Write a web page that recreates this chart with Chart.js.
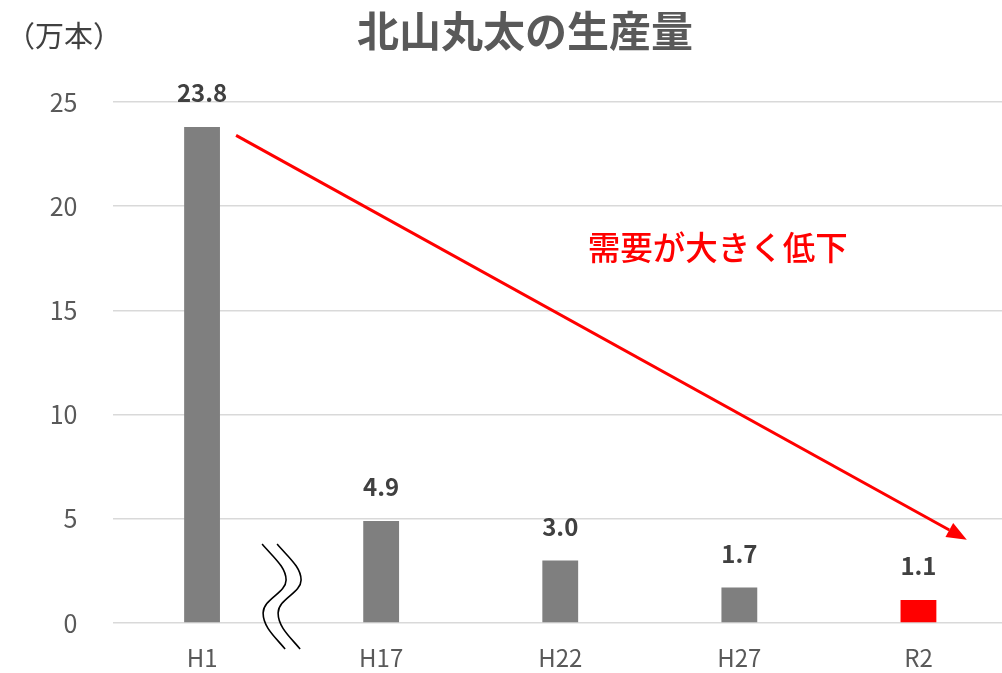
<!DOCTYPE html>
<html lang="ja">
<head>
<meta charset="utf-8">
<title>北山丸太の生産量</title>
<script src="https://cdn.jsdelivr.net/npm/chart.js@4.4.1/dist/chart.umd.min.js"></script>
<style>
  html, body { margin: 0; padding: 0; background: #fff; overflow: hidden; }
  #wrap { width: 1008px; height: 673px; position: relative; }
</style>
</head>
<body>
<div id="wrap"><canvas id="chart"></canvas></div>
<script>
const FONT = '"Noto Sans CJK JP", "Noto Sans", sans-serif';

const categories = ["H1", "H17", "H22", "H27", "R2"];
const production = [23.8, 4.9, 3.0, 1.7, 1.1]; // 万本
const yTicks = [0, 5, 10, 15, 20, 25];

const TITLE = "北山丸太の生産量";
const UNIT = "（万本）";
const NOTE = "需要が大きく低下";

// annotation anchors in data units: [category index, value]
const arrowFrom = [0.19, 23.4];
const arrowTo = [4.27, 4.0];
const noteAt = [2.88, 18.0];
const breakAt = 0.447; // between H1 and H17

const barColors = production.map((_, i) => (i === production.length - 1 ? "#ff0000" : "#7f7f7f"));

// value labels above each bar
const valueLabels = {
  id: "valueLabels",
  afterDatasetsDraw(chart) {
    const ctx = chart.ctx;
    const meta = chart.getDatasetMeta(0);
    ctx.save();
    ctx.font = `bold 24px ${FONT}`;
    ctx.fillStyle = "#404040";
    ctx.textAlign = "center";
    ctx.textBaseline = "middle";
    meta.data.forEach((bar, i) => {
      ctx.fillText(production[i].toFixed(1), bar.x, bar.y - 34);
    });
    ctx.restore();
  },
};

// title, unit label, trend arrow, note and axis break marks
const decorations = {
  id: "decorations",
  afterDraw(chart) {
    const ctx = chart.ctx;
    const xs = chart.scales.x, ys = chart.scales.y;
    const px = (p) => [xs.getPixelForValue(p[0]), ys.getPixelForValue(p[1])];
    ctx.save();

    ctx.font = `bold 42px ${FONT}`;
    ctx.fillStyle = "#595959";
    ctx.textAlign = "center";
    ctx.textBaseline = "middle";
    ctx.fillText(TITLE, 525, 31);

    ctx.font = `29px ${FONT}`;
    ctx.fillStyle = "#404040";
    ctx.textAlign = "left";
    ctx.fillText(UNIT, 6, 36);

    // arrow
    const [x1, y1] = px(arrowFrom);
    const [x2, y2] = px(arrowTo);
    const ang = Math.atan2(y2 - y1, x2 - x1);
    const headLen = 20, headW = 8;
    const bx = x2 - headLen * Math.cos(ang), by = y2 - headLen * Math.sin(ang);
    ctx.strokeStyle = "#ff0000";
    ctx.fillStyle = "#ff0000";
    ctx.lineWidth = 3;
    ctx.beginPath();
    ctx.moveTo(x1, y1);
    ctx.lineTo(bx, by);
    ctx.stroke();
    ctx.beginPath();
    ctx.moveTo(x2, y2);
    ctx.lineTo(bx + headW * Math.sin(ang), by - headW * Math.cos(ang));
    ctx.lineTo(bx - headW * Math.sin(ang), by + headW * Math.cos(ang));
    ctx.closePath();
    ctx.fill();

    // note
    const [nx, ny] = px(noteAt);
    ctx.font = `500 32.5px ${FONT}`;
    ctx.textAlign = "center";
    ctx.fillText(NOTE, nx, ny);

    // wavy break marks across the baseline
    const cx = xs.getPixelForValue(breakAt);
    const y0 = ys.getPixelForValue(0);
    ctx.strokeStyle = "#000";
    ctx.lineWidth = 1.6;
    [-7, 8].forEach((dx) => {
      const x = cx + dx;
      ctx.beginPath();
      ctx.moveTo(x - 13, y0 - 79);
      ctx.bezierCurveTo(x - 2, y0 - 66, x + 11, y0 - 56, x + 11, y0 - 43);
      ctx.bezierCurveTo(x + 11, y0 - 30, x - 12, y0 - 24, x - 12, y0 - 10);
      ctx.bezierCurveTo(x - 12, y0 + 4, x, y0 + 14, x + 10, y0 + 26);
      ctx.stroke();
    });

    ctx.restore();
  },
};

new Chart(document.getElementById("chart"), {
  type: "bar",
  data: {
    labels: categories,
    datasets: [{ data: production, backgroundColor: barColors, borderWidth: 0 }],
  },
  options: {
    responsive: true,
    maintainAspectRatio: false,
    animation: false,
    devicePixelRatio: 1,
    layout: { padding: { top: 102, right: 0, bottom: 0, left: 0 } },
    plugins: { legend: { display: false }, tooltip: { enabled: false }, title: { display: false } },
    datasets: { bar: { categoryPercentage: 1, barPercentage: 0.2 } },
    scales: {
      x: {
        grid: { display: false },
        border: { display: false },
        ticks: { color: "#595959", font: { family: FONT, size: 24 }, padding: 12 },
        afterFit(scale) { scale.height = 50; },
      },
      y: {
        min: yTicks[0],
        max: yTicks[yTicks.length - 1],
        afterBuildTicks(scale) { scale.ticks = yTicks.map((v) => ({ value: v })); },
        grid: { color: "#d9d9d9", lineWidth: 1.5, drawTicks: false },
        border: { display: false },
        ticks: { color: "#595959", font: { family: FONT, size: 25 }, padding: 35 },
        afterFit(scale) { scale.width = 112.5; },
      },
    },
  },
  plugins: [valueLabels, decorations],
});
</script>
</body>
</html>
